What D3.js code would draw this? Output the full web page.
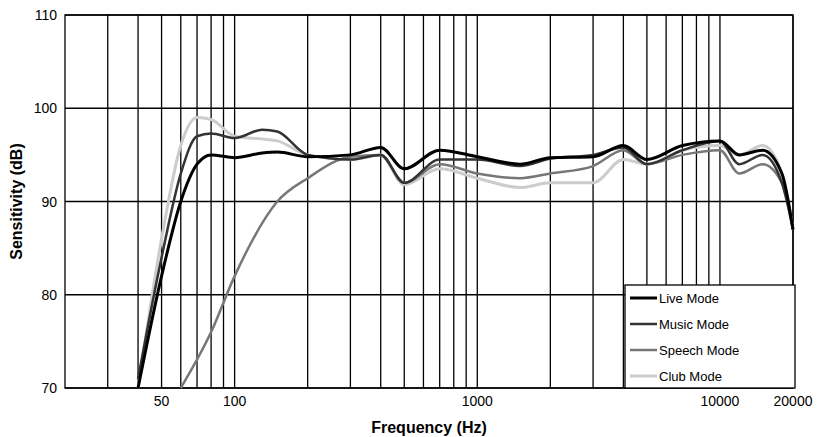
<!DOCTYPE html><html><head><meta charset="utf-8">
<script src="https://cdn.jsdelivr.net/npm/d3@7"></script>
<style>body{margin:0;background:#fff}</style></head><body>
<svg id="c" width="818" height="437"></svg>
<script>
const freqs = [40,50,60,70,80,100,130,150,200,300,400,500,700,1000,1500,2000,3000,4000,5000,7000,10000,12000,15000,18000,20000];
const live   = [70,82,90,94,95,94.7,95.2,95.3,94.8,95,95.8,93.5,95.5,94.8,94,94.7,94.8,96,94.5,96,96.5,95,95.5,93,87];
const music  = [71,84,93,97,97.3,96.8,97.7,97.5,95,94.5,95,92,94.5,94.5,93.8,94.6,95,95.8,94,95.5,96.5,94,95,92,87];
const speechF = [60,80,100,150,200,300,400,500,700,1000,1500,2000,3000,4000,5000,7000,10000,12000,15000,18000,20000];
const speech = [70,76,82,90,92.5,94.8,95,92,94,93,92.5,93,93.8,95.5,94,95,95.5,93,94,92,87];
const club   = [70,86,96,99,98.8,97,96.7,96.5,95,94.5,95,91.8,93.5,92.5,91.5,92,92,94.5,94,95.5,96,95,96,93,87];
const seriesNames = ["Live Mode","Music Mode","Speech Mode","Club Mode"];
const xTicks = [50,100,1000,10000,20000];
const yTicks = [70,80,90,100,110];

const svg = d3.select("#c");
const L=65,R=793,T=15,B=388;
const x = d3.scaleLog().domain([20,20000]).range([L,R]);
const y = d3.scaleLinear().domain([70,110]).range([B,T]);
const g = svg.append("g");
// vertical grid
const grid=[];
for(let d=10; d<=10000; d*=10) for(let k=1;k<10;k++){const v=d*k; if(v>20&&v<=20000) grid.push(v);}
g.selectAll(".vg").data(grid).join("line").attr("x1",d=>x(d)).attr("x2",d=>x(d)).attr("y1",T).attr("y2",B).attr("stroke","#000").attr("stroke-width",1.3);
g.selectAll(".hg").data(yTicks).join("line").attr("x1",L).attr("x2",R).attr("y1",d=>y(d)).attr("y2",d=>y(d)).attr("stroke","#000").attr("stroke-width",1.3);
g.append("rect").attr("x",L).attr("y",T).attr("width",R-L).attr("height",B-T).attr("fill","none").attr("stroke","#000").attr("stroke-width",1.3);
const font="Liberation Sans, Arial, sans-serif";
g.selectAll(".yt").data(yTicks).join("text").attr("x",L-8).attr("y",d=>y(d)+5).attr("text-anchor","end").attr("font-family",font).attr("font-size",14).text(d=>d);
g.selectAll(".xt").data(xTicks).join("text").attr("x",d=>x(d)).attr("y",B+18).attr("text-anchor","middle").attr("font-family",font).attr("font-size",14).text(d=>d);
svg.append("text").attr("x",(L+R)/2).attr("y",433).attr("text-anchor","middle").attr("font-family",font).attr("font-weight","bold").attr("font-size",16).text("Frequency (Hz)");
svg.append("text").attr("transform",`translate(22,${(T+B)/2}) rotate(-90)`).attr("text-anchor","middle").attr("font-family",font).attr("font-weight","bold").attr("font-size",16).text("Sensitivity (dB)");
const colors=["#000","#333","#777","#ccc"];
const widths=[3,2.5,2.5,3];
const data=[[freqs,live],[freqs,music],[speechF,speech],[freqs,club]];
const line=d3.line().x(d=>x(d[0])).y(d=>y(d[1])).curve(d3.curveMonotoneX);
[3,2,1,0].forEach(i=>{
  const pts=data[i][0].map((f,j)=>[f,data[i][1][j]]);
  g.append("path").attr("d",line(pts)).attr("fill","none").attr("stroke",colors[i]).attr("stroke-width",widths[i]);
});
// legend
const lg=svg.append("g");
lg.append("rect").attr("x",625).attr("y",285).attr("width",170).attr("height",103).attr("fill","#fff").attr("stroke","#000").attr("stroke-width",1.3);
seriesNames.forEach((n,i)=>{
  const yy=298+i*26;
  lg.append("line").attr("x1",630).attr("x2",657).attr("y1",yy).attr("y2",yy).attr("stroke",colors[i]).attr("stroke-width",widths[i]);
  lg.append("text").attr("x",659).attr("y",yy+5).attr("font-family",font).attr("font-size",13).text(n);
});
</script></body></html>
